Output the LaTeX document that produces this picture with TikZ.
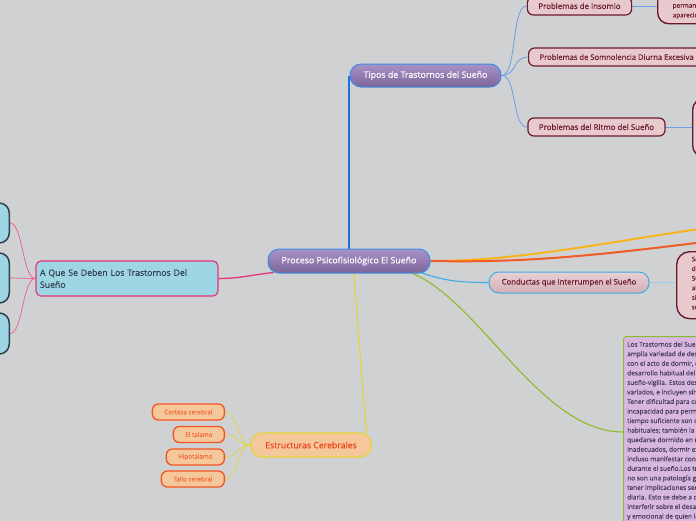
\documentclass[tikz,border=0pt]{standalone}
\usepackage{fontspec}
\setmainfont{Open Sans}
\newfontfamily\medfont{Open Sans}[FakeBold=0.45]
\newfontfamily\smfont{Open Sans}[FakeBold=0.25]
\usetikzlibrary{backgrounds,shadings,calc}
\definecolor{bg}{HTML}{D0D1D3}
\definecolor{purpT}{HTML}{A893C8}
\definecolor{purpD}{HTML}{7C6599}
\definecolor{purpB}{HTML}{3C8EE4}
\definecolor{pinkF}{HTML}{E8C9CD}
\definecolor{maroon}{HTML}{6B1B2C}
\definecolor{condT}{HTML}{E8D0D4}
\definecolor{condD}{HTML}{D3AFB5}
\definecolor{blueF}{HTML}{9FD6E4}
\definecolor{pinkB}{HTML}{E8327B}
\definecolor{slate}{HTML}{2E3F4D}
\definecolor{aqtext}{HTML}{33404F}
\definecolor{peach}{HTML}{F5C89C}
\definecolor{yellowB}{HTML}{E8D433}
\definecolor{orangeT}{HTML}{F0461C}
\definecolor{orangeB}{HTML}{F25522}
\definecolor{orangeT2}{HTML}{F26B3B}
\definecolor{lav}{HTML}{D8B8E0}
\definecolor{greenB}{HTML}{8CBD2A}
\definecolor{lavtext}{HTML}{4A3D58}
\definecolor{dblue}{HTML}{1F6FDE}
\definecolor{lblue}{HTML}{6E9FE4}
\definecolor{oraL}{HTML}{F7B41C}
\definecolor{redL}{HTML}{F15B25}
\definecolor{cyanL}{HTML}{3AADE6}
\definecolor{cyanL2}{HTML}{9DCDE8}
\definecolor{greenL}{HTML}{8FBA28}
\definecolor{yellowL}{HTML}{E6D52E}
\pgfdeclarelayer{bgl}
\pgfdeclarelayer{conn}
\pgfsetlayers{bgl,conn,main}
\begin{document}
\begin{tikzpicture}[x=1pt,y=-1pt,
  purp/.style={draw=purpB, line width=1pt, top color=purpT, bottom color=purpD, rounded corners=11pt, text=white, font=\medfont\fontsize{8.8}{10}\selectfont, inner sep=0pt},
  pinkn/.style={draw=maroon, line width=1.2pt, fill=pinkF, rounded corners=6pt, text=maroon, font=\medfont\fontsize{7.9}{9}\selectfont, minimum height=18pt, inner ysep=0pt, inner xsep=11pt},
  detbox/.style={draw=maroon, line width=1.4pt, fill=pinkF, rounded corners=11pt, inner sep=0pt},
  dtext/.style={text=maroon, font=\smfont\fontsize{6.4}{9.6}\selectfont, align=left, inner sep=0pt},
  leftbox/.style={draw=slate, line width=1.5pt, fill=blueF, rounded corners=10pt, minimum width=60pt, inner sep=0pt},
  orch/.style={draw=orangeB, line width=1.3pt, fill=peach, rounded corners=6pt, text=orangeT2, font=\smfont\fontsize{6.3}{7}\selectfont, minimum height=16pt, inner sep=0pt},
  dconn/.style={draw=dblue, line width=1.8pt},
  lbconn/.style={draw=lblue, line width=0.8pt},
  pkconn/.style={draw=pinkB, line width=1.3pt},
  pkthin/.style={draw=pinkB!80!white, line width=0.7pt},
  oraconn/.style={draw=oraL, line width=2pt},
  redconn/.style={draw=redL, line width=2pt},
  cyconn/.style={draw=cyanL, line width=1.1pt},
  cy2conn/.style={draw=cyanL2, line width=1.4pt},
  grconn/.style={draw=greenL, line width=1.1pt},
  ylconn/.style={draw=yellowL, line width=1.1pt},
  ylthin/.style={draw=yellowL, line width=0.6pt}
]
\useasboundingbox (0,0) rectangle (696,520);
\clip (0,0) rectangle (696,520);
\begin{pgfonlayer}{bgl}
  \fill[bg] (-10,-10) rectangle (710,530);
\end{pgfonlayer}

% central and main topics
\node[purp, minimum width=162pt, minimum height=24pt] (c) at (349,261) {Proceso Psicofisiológico El Sueño};
\node[purp, minimum width=151pt, minimum height=23pt] (tipos) at (425.5,75.5) {Tipos de Trastornos del Sueño};

% Tipos children
\node[pinkn, minimum width=103pt] (ins) at (579.5,6) {Problemas de insomio};
\node[pinkn, anchor=west, font=\medfont\fontsize{7.6}{9}\selectfont] (som) at (528,57) {Problemas de Somnolencia Diurna Excesiva};
\node[pinkn, minimum width=137pt] (rit) at (596.5,127) {Problemas del Ritmo del Sueño};
\node[detbox, anchor=north west, minimum width=110pt, minimum height=63pt] (insd) at (657,-40) {};
\node[dtext, anchor=west] (insT) at (672.5,6) {Dificultad para conciliar o\\permanecer dormido, o que\\aparecido el despertar};
\node[detbox, anchor=north west, minimum width=80pt, minimum height=58pt] (ritd) at (692,98) {};

% Conductas
\node[draw=cyanL, line width=1pt, top color=condT, bottom color=condD, rounded corners=10pt, text=maroon, font=\medfont\fontsize{7.7}{9}\selectfont, minimum width=160pt, minimum height=21pt, inner sep=0pt] (cond) at (569,282.5) {Conductas que Interrumpen el Sueño};
\node[detbox, anchor=north west, minimum width=100pt, minimum height=67pt, rounded corners=13pt] (condd) at (676,251) {};
\node[dtext, anchor=west] (condTx) at (691.5,283) {Son aquellas conductas\\durante el periodo de\\Sueño que lo\\alteran\\sin permitir\\su descanso};

% A Que Se Deben
\node[draw=pinkB, line width=1.2pt, fill=blueF, rounded corners=5pt, text=aqtext, font=\medfont\fontsize{8.7}{12}\selectfont, minimum width=182pt, minimum height=35pt, text width=174pt, align=left, inner sep=0pt] (aque) at (127,278.5) {A Que Se Deben Los Trastornos Del\\Sueño};
\node[leftbox, anchor=east, minimum height=40pt] (L1) at (10,223) {};
\node[leftbox, anchor=east, minimum height=50pt] (L2) at (10,278) {};
\node[leftbox, anchor=east, minimum height=41pt] (L3) at (10,333.5) {};

% Estructuras
\node[draw=yellowB, line width=1.2pt, fill=peach, rounded corners=11pt, text=orangeT, font=\medfont\fontsize{8.7}{10}\selectfont, minimum width=120pt, minimum height=24pt, inner sep=0pt] (estr) at (311,445) {Estructuras Cerebrales};
\node[orch, anchor=east, minimum width=72pt] (o1) at (225,412) {Corteza cerebral};
\node[orch, anchor=east, minimum width=51pt] (o2) at (225,434.5) {El talamo};
\node[orch, anchor=east, minimum width=58pt] (o3) at (225,457) {Hipotalamo};
\node[orch, anchor=east, minimum width=63pt] (o4) at (225,479) {Tallo cerebral};

% green-bordered text box
\node[draw=greenB, line width=1pt, fill=lav, rounded corners=3pt, anchor=north west, minimum width=150pt, minimum height=220pt, inner sep=0pt] (grn) at (623,336) {};
\node[text=lavtext, font=\smfont\fontsize{6.5}{9.55}\selectfont, align=left, inner sep=0pt, anchor=north west] (grnT) at (627,341.5) {Los Trastornos del Sueño constituyen una\\amplia variedad de desórdenes relacionados\\con el acto de dormir, que afectan el\\desarrollo habitual del ciclo\\sueño-vigilia. Estos desórdenes son muy\\variados, e incluyen síntomas como:\\Tener dificultad para conciliar el sueño,\\incapacidad para permanecer dormido el\\tiempo suficiente son dos de los más\\habituales; también la tendencia a\\quedarse dormido en momentos\\inadecuados, dormir excesivamente e\\incluso manifestar conductas extrañas\\durante el sueño.Los trastornos del sueño\\no son una patología grave, pero pueden\\tener implicaciones serias en la vida\\diaria. Esto se debe a que pueden\\interferir sobre el desarrollo físico, mental\\y emocional de quien los padece.};

\coordinate (oe) at (720,226);
\coordinate (re) at (720,240);

\begin{pgfonlayer}{conn}
  \draw[dconn] (c.north) -- (c.north |- tipos.west);
  \draw[lbconn] (tipos.east) .. controls +(16,0) and +(-16,0) .. (ins.west);
  \draw[lbconn] (tipos.east) .. controls +(16,0) and +(-16,0) .. (som.west);
  \draw[lbconn] (tipos.east) .. controls +(16,0) and +(-16,0) .. (rit.west);
  \draw[lbconn] (ins.east) -- (ins.east -| insd.west);
  \draw[lbconn] (rit.east) -- (rit.east -| ritd.west);
  \draw[pkconn] ($(c.south west)+(6,-1)$) .. controls (250,275) and (240,278.5) .. (aque.east);
  \draw[pkthin] (aque.west) .. controls +(-13,0) and +(13,0) .. (L1.east);
  \draw[pkthin] (aque.west) -- (L2.east);
  \draw[pkthin] (aque.west) .. controls +(-13,0) and +(13,0) .. (L3.east);
  \draw[oraconn] (c.east) .. controls (520,261) and (600,243) .. (oe);
  \draw[redconn] (c.east) .. controls (530,263) and (600,255) .. (re);
  \draw[cyconn] ($(c.south east)+(-10,-1)$) .. controls (445,281) and (460,282.5) .. (cond.west);
  \draw[cy2conn] (cond.east) -- (cond.east -| condd.west);
  \draw[grconn] ($(c.south east)+(-20,-1)$) .. controls (480,300) and (540,432) .. ($(grn.north west)+(0,96)$);
  \draw[ylconn] ($(c.south)+(5,0)$) .. controls (358,330) and (363,390) .. ($(estr.north east)+(-5,1)$);
  \draw[ylthin] (estr.west) .. controls +(-13,0) and +(13,0) .. (o1.east);
  \draw[ylthin] (estr.west) .. controls +(-13,0) and +(13,0) .. (o2.east);
  \draw[ylthin] (estr.west) .. controls +(-13,0) and +(13,0) .. (o3.east);
  \draw[ylthin] (estr.west) .. controls +(-13,0) and +(13,0) .. (o4.east);
\end{pgfonlayer}
\end{tikzpicture}
\end{document}
